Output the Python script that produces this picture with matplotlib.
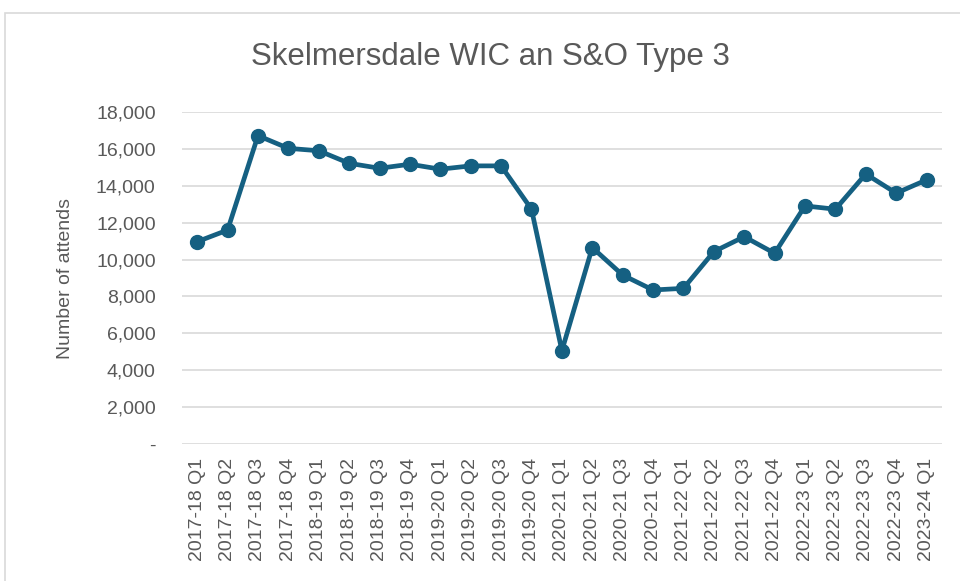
import numpy as np
import matplotlib
matplotlib.use("Agg")
import matplotlib.pyplot as plt
from matplotlib.patches import Rectangle
from matplotlib.ticker import FuncFormatter

quarters = [
    "2017-18 Q1", "2017-18 Q2", "2017-18 Q3", "2017-18 Q4",
    "2018-19 Q1", "2018-19 Q2", "2018-19 Q3", "2018-19 Q4",
    "2019-20 Q1", "2019-20 Q2", "2019-20 Q3", "2019-20 Q4",
    "2020-21 Q1", "2020-21 Q2", "2020-21 Q3", "2020-21 Q4",
    "2021-22 Q1", "2021-22 Q2", "2021-22 Q3", "2021-22 Q4",
    "2022-23 Q1", "2022-23 Q2", "2022-23 Q3", "2022-23 Q4",
    "2023-24 Q1",
]
attends = [
    10970, 11600, 16720, 16030,
    15900, 15220, 14950, 15170,
    14900, 15080, 15080, 12730,
    5060, 10650, 9160, 8350,
    8440, 10430, 11240, 10340,
    12910, 12730, 14640, 13600,
    14320,
]

plt.rcParams['font.family'] = ['Liberation Sans', 'DejaVu Sans']
grey = '#595959'
line_col = '#156082'

fig = plt.figure(figsize=(9.6, 5.81), dpi=100)
ax = fig.add_axes([0.1896, 0.2358, 0.7914, 0.5714])

x = np.arange(len(quarters))
ax.plot(x, attends, color=line_col, lw=3.4, marker='o', markersize=10,
        solid_joinstyle='round', zorder=3)

ax.set_xlim(-0.5, len(quarters) - 0.5)
ax.set_ylim(0, 18000)
ax.set_yticks(np.arange(0, 18001, 2000))
ax.yaxis.set_major_formatter(FuncFormatter(lambda v, p: '-' if v == 0 else f'{int(v):,}'))
ax.set_xticks(x)
ax.set_xticklabels(quarters, rotation=90)
ax.tick_params(axis='both', length=0, colors=grey, labelsize=14)
ax.tick_params(axis='y', pad=19)
ax.tick_params(axis='x', pad=10)
ax.grid(axis='y', color='#d9d9d9', lw=1.2)
ax.set_axisbelow(True)
for s in ax.spines.values():
    s.set_visible(False)

ax.set_ylabel('Number of attends', color=grey, fontsize=14, labelpad=16)
fig.text(0.5104, 0.902, 'Skelmersdale WIC an S&O Type 3', ha='center', va='center',
         fontsize=22.5, color=grey)

# chart-area border, open at right and bottom like the cropped original
fig.patches.append(Rectangle((5 / 960, -0.05), 1.05, 1.05 - 13 / 581,
                             transform=fig.transFigure, fill=False,
                             edgecolor='#d9d9d9', lw=1.2))

fig.savefig('out.png', dpi=100)
